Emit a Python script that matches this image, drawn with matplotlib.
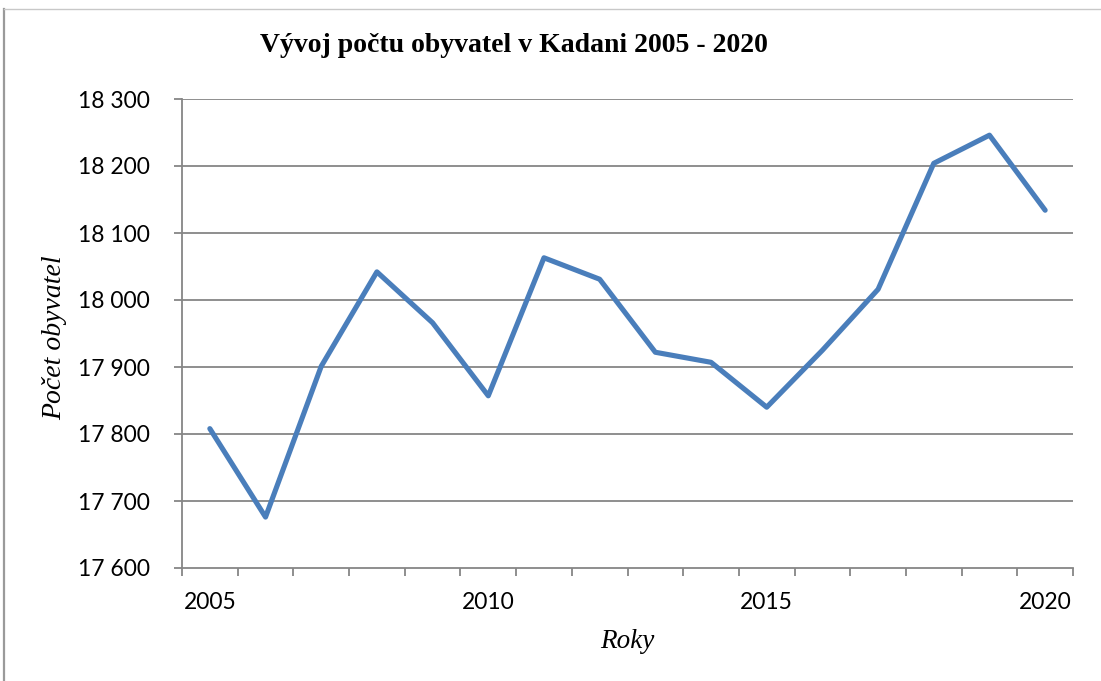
import matplotlib
matplotlib.use("Agg")
import matplotlib.pyplot as plt
from matplotlib.lines import Line2D
import numpy as np

years = [2005, 2006, 2007, 2008, 2009, 2010, 2011, 2012,
         2013, 2014, 2015, 2016, 2017, 2018, 2019, 2020]
population = [17808, 17676, 17901, 18042, 17966, 17857, 18063, 18031,
              17922, 17907, 17840, 17925, 18016, 18204, 18246, 18134]
y_ticks = [17600, 17700, 17800, 17900, 18000, 18100, 18200, 18300]
y_tick_labels = ["17 600", "17 700", "17 800", "17 900",
                 "18 000", "18 100", "18 200", "18 300"]
x_label_years = [2005, 2010, 2015, 2020]

title = "Vývoj počtu obyvatel v Kadani 2005 - 2020"
xlabel = "Roky"
ylabel = "Počet obyvatel"

W, H = 1101, 681
fig = plt.figure(figsize=(W / 100, H / 100), dpi=100)
fig.patch.set_facecolor("white")

ax = fig.add_axes([182 / W, 1 - 568 / H, (1073 - 182) / W, (568 - 99) / H])

grid_color = "#868686"
idx = np.arange(len(years))
ax.plot(idx, population, color="#4a7ebb", linewidth=3.7,
        solid_capstyle="round", solid_joinstyle="round", zorder=3)

ax.set_xlim(-0.5, len(years) - 0.5)
ax.set_ylim(y_ticks[0], y_ticks[-1])

ax.set_yticks(y_ticks)
ax.set_yticklabels(y_tick_labels)
for y in y_ticks[1:]:
    ax.axhline(y, color=grid_color, linewidth=1.3, zorder=1)

# category boundaries as major ticks, labels as minor ticks
ax.set_xticks(np.arange(-0.5, len(years), 1.0))
ax.set_xticklabels([])
label_pos = [years.index(y) for y in x_label_years]
ax.set_xticks(label_pos, minor=True)
ax.set_xticklabels([str(y) for y in x_label_years], minor=True)

for s in ["top", "right"]:
    ax.spines[s].set_visible(False)
for s in ["left", "bottom"]:
    ax.spines[s].set_color(grid_color)
    ax.spines[s].set_linewidth(1.3)

tick_font = "Lato"
ax.tick_params(axis="y", which="major", length=6, width=1.3, color=grid_color,
               pad=17, labelsize=16.5, labelcolor="black", labelfontfamily=tick_font)
ax.tick_params(axis="x", which="major", length=6, width=1.3, color=grid_color)
ax.tick_params(axis="x", which="minor", length=0, pad=17, labelsize=16.5,
               labelcolor="black", labelfontfamily=tick_font)

ax.set_xlabel(xlabel, fontfamily="Liberation Serif", fontstyle="italic",
              fontsize=19.5, labelpad=12)
ax.set_ylabel(ylabel, fontfamily="Liberation Serif", fontstyle="italic",
              fontsize=20)
ax.yaxis.label.set_transform(fig.transFigure)
ax.yaxis.label.set_position((55 / W, 1 - 338 / H))
ax.yaxis.label.set_verticalalignment("center")
ax.yaxis.label.set_horizontalalignment("center")
ax.yaxis.set_label_coords(55 / W, 1 - 338 / H, transform=fig.transFigure)

fig.text(514 / W, 1 - 46 / H, title, fontfamily="Liberation Serif",
         fontweight="bold", fontsize=20, ha="center", va="center")

# chart frame edges (left and top)
fig.add_artist(Line2D([3.5 / W, 3.5 / W], [0, 1 - 9 / H],
                      transform=fig.transFigure, color="#9a9a9a", linewidth=1.6))
fig.add_artist(Line2D([3.5 / W, 1], [1 - 9 / H, 1 - 9 / H],
                      transform=fig.transFigure, color="#c8c8c8", linewidth=1.0))

fig.savefig("out.png", dpi=100, facecolor="white")
